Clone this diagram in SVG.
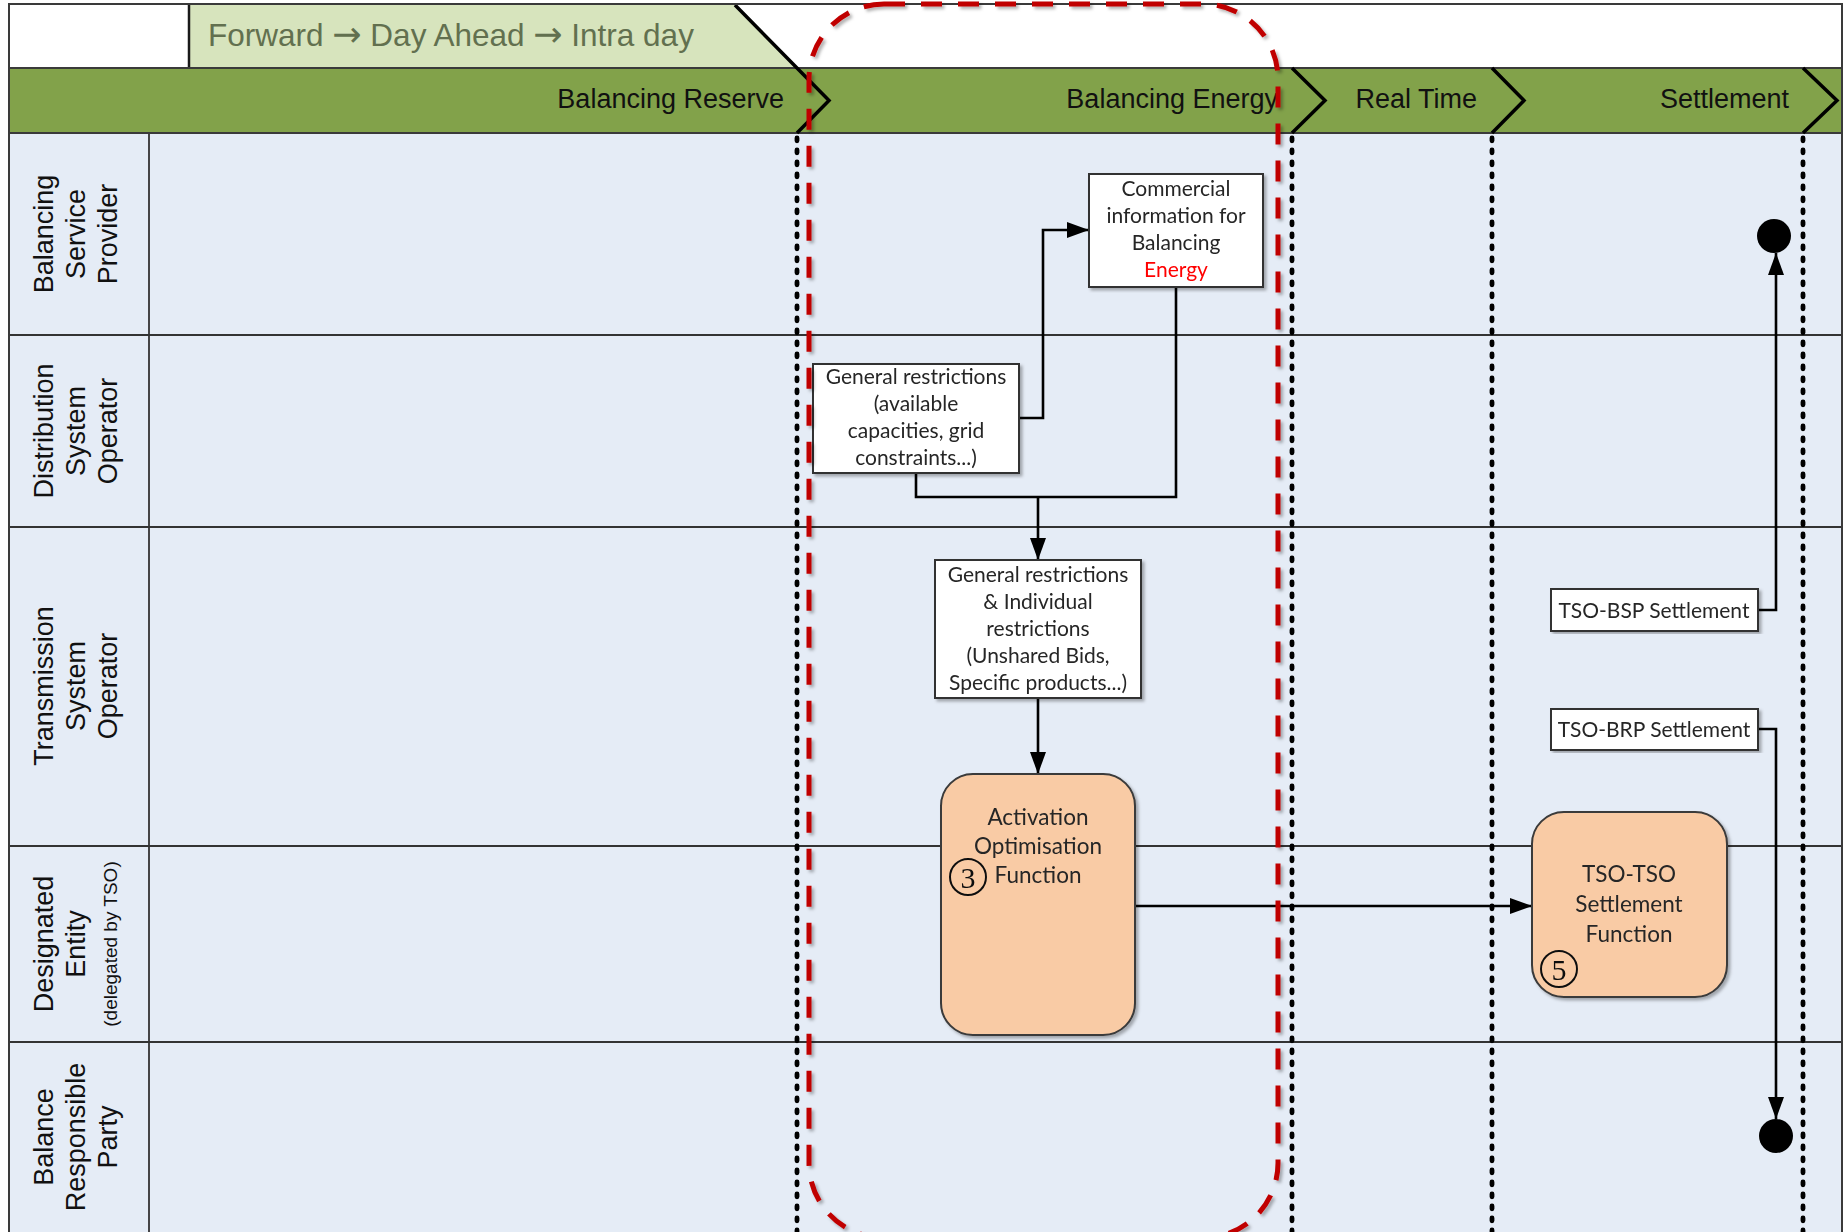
<svg xmlns="http://www.w3.org/2000/svg" width="1843" height="1232" viewBox="0 0 1843 1232">
  <defs>
    <style>
      .lane { fill: #E5ECF6; }
      .grid { stroke: #333333; stroke-width: 1.8; fill: none; }
      .edge { stroke: #3a3a3a; stroke-width: 2; fill: none; }
      .chev { stroke: #000000; stroke-width: 3.5; fill: none; stroke-linejoin: miter; }
      .dots { stroke: #000000; stroke-width: 4.8; stroke-dasharray: 2.8 9.2; stroke-linecap: round; fill: none; }
      .phase { font-family: "Liberation Sans", Arial, sans-serif; font-size: 27px; fill: #111111; }
      .role { font-family: "Liberation Sans", Arial, sans-serif; font-size: 27px; fill: #111111; text-anchor: middle; }
      .role-small { font-family: "Liberation Sans", Arial, sans-serif; font-size: 19px; fill: #111111; text-anchor: middle; }
      .box { fill: #FFFFFF; stroke: #333333; stroke-width: 2; }
      .func { fill: #F9CBA5; stroke: #3a3a3a; stroke-width: 2; }
      .label { font-family: Lato, "Open Sans", sans-serif; font-size: 21px; fill: #262626; text-anchor: middle; }
      .flabel { font-family: Lato, "Open Sans", sans-serif; font-size: 22.5px; fill: #262626; text-anchor: middle; }
      .num { font-family: "Liberation Serif", "Times New Roman", serif; font-size: 30px; fill: #111111; text-anchor: middle; }
      .ring { fill: none; stroke: #111111; stroke-width: 2; }
      .flow { stroke: #000000; stroke-width: 2.6; fill: none; }
      .scope { fill: none; stroke: #C00000; stroke-width: 5; stroke-dasharray: 21 16; }
      .arr { font-family: "DejaVu Sans", sans-serif; font-size: 35px; }
    </style>
    <marker id="arrow" viewBox="0 0 22 16" refX="22" refY="8" markerWidth="22" markerHeight="16" markerUnits="userSpaceOnUse" orient="auto">
      <path d="M0,0 L22,8 L0,16 z" fill="#000000"/>
    </marker>
    <filter id="shade" x="-5%" y="-5%" width="110%" height="110%">
      <feDropShadow dx="2.5" dy="2.5" stdDeviation="1.5" flood-color="#000000" flood-opacity="0.3"/>
    </filter>
  </defs>

  <!-- page background -->
  <rect x="0" y="0" width="1843" height="1232" fill="#FFFFFF"/>

  <!-- swimlane body -->
  <rect class="lane" x="9" y="133" width="1833" height="1100"/>

  <!-- lane separators and header column -->
  <g id="lane-grid">
    <line class="grid" x1="9" y1="335" x2="1842" y2="335"/>
    <line class="grid" x1="9" y1="527" x2="1842" y2="527"/>
    <line class="grid" x1="9" y1="846" x2="1842" y2="846"/>
    <line class="grid" x1="9" y1="1042" x2="1842" y2="1042"/>
    <line class="grid" x1="149" y1="133" x2="149" y2="1232"/>
  </g>

  <!-- market timeframe banner -->
  <g id="timeframe">
    <polygon points="189,5 735,5 797,68 189,68" fill="#D7E4BD"/>
    <line x1="189" y1="5" x2="189" y2="68" stroke="#1a1a1a" stroke-width="2.5"/>
    <text x="208" y="46" font-family="'Liberation Sans', Arial, sans-serif" font-size="31.5" fill="#62704F">Forward <tspan class="arr">→</tspan> Day Ahead <tspan class="arr">→</tspan> Intra day</text>
  </g>

  <!-- phase band -->
  <g id="phase-band">
    <rect x="9" y="68" width="1833" height="65" fill="#82A24A"/>
    <line class="edge" x1="9" y1="68" x2="1842" y2="68"/>
    <line class="edge" x1="9" y1="133" x2="1842" y2="133"/>
    <text class="phase" x="784" y="108" text-anchor="end">Balancing Reserve</text>
    <text class="phase" x="1278" y="108" text-anchor="end">Balancing Energy</text>
    <text class="phase" x="1477" y="108" text-anchor="end">Real Time</text>
    <text class="phase" x="1789" y="108" text-anchor="end">Settlement</text>
  </g>

  <!-- phase boundaries -->
  <g id="phase-boundaries">
    <path class="chev" d="M735,5 L829,100.5 L797,133"/>
    <path class="chev" d="M1292,68 L1325,100.5 L1292,133"/>
    <path class="chev" d="M1492,68 L1524,100.5 L1492,133"/>
    <path class="chev" d="M1803,68 L1837,100.5 L1803,133"/>
    <line class="dots" x1="797" y1="138" x2="797" y2="1232"/>
    <line class="dots" x1="1292" y1="138" x2="1292" y2="1232"/>
    <line class="dots" x1="1492" y1="138" x2="1492" y2="1232"/>
    <line class="dots" x1="1803" y1="138" x2="1803" y2="1232"/>
  </g>

  <!-- outer frame -->
  <path class="edge" d="M9,1232 L9,4 L1842,4 L1842,1232"/>

  <!-- role names -->
  <g id="role-bsp">
    <text class="role" transform="translate(53,234) rotate(-90)">Balancing</text>
    <text class="role" transform="translate(85,234) rotate(-90)">Service</text>
    <text class="role" transform="translate(117,234) rotate(-90)">Provider</text>
  </g>
  <g id="role-dso">
    <text class="role" transform="translate(53,431) rotate(-90)">Distribution</text>
    <text class="role" transform="translate(85,431) rotate(-90)">System</text>
    <text class="role" transform="translate(117,431) rotate(-90)">Operator</text>
  </g>
  <g id="role-tso">
    <text class="role" transform="translate(53,686) rotate(-90)">Transmission</text>
    <text class="role" transform="translate(85,686) rotate(-90)">System</text>
    <text class="role" transform="translate(117,686) rotate(-90)">Operator</text>
  </g>
  <g id="role-de">
    <text class="role" transform="translate(53,944) rotate(-90)">Designated</text>
    <text class="role" transform="translate(85,944) rotate(-90)">Entity</text>
    <text class="role-small" transform="translate(117,944) rotate(-90)">(delegated by TSO)</text>
  </g>
  <g id="role-brp">
    <text class="role" transform="translate(53,1137) rotate(-90)">Balance</text>
    <text class="role" transform="translate(85,1137) rotate(-90)">Responsible</text>
    <text class="role" transform="translate(117,1137) rotate(-90)">Party</text>
  </g>

  <!-- connectors -->
  <g id="connectors">
    <polyline class="flow" points="1019,418 1043,418 1043,230 1089,230" marker-end="url(#arrow)"/>
    <polyline class="flow" points="1176,287 1176,497 916,497 916,473"/>
    <line class="flow" x1="1038" y1="497" x2="1038" y2="560" marker-end="url(#arrow)"/>
    <line class="flow" x1="1038" y1="698" x2="1038" y2="774" marker-end="url(#arrow)"/>
    <line class="flow" x1="1135" y1="906" x2="1532" y2="906" marker-end="url(#arrow)"/>
    <polyline class="flow" points="1758,610 1776,610 1776,253" marker-end="url(#arrow)"/>
    <polyline class="flow" points="1758,729 1776,729 1776,1119" marker-end="url(#arrow)"/>
  </g>

  <!-- end points -->
  <g id="end-bsp">
    <circle cx="1774" cy="236" r="17" fill="#000000"/>
  </g>
  <g id="end-brp">
    <circle cx="1776" cy="1136" r="17" fill="#000000"/>
  </g>

  <!-- information objects -->
  <g id="commercial-info" filter="url(#shade)">
    <rect class="box" x="1089" y="174" width="174" height="113"/>
    <text class="label" x="1176" y="196">Commercial</text>
    <text class="label" x="1176" y="223">information for</text>
    <text class="label" x="1176" y="250">Balancing</text>
    <text class="label" x="1176" y="277" style="fill:#FF0000">Energy</text>
  </g>

  <g id="dso-restrictions" filter="url(#shade)">
    <rect class="box" x="813" y="364" width="206" height="109"/>
    <text class="label" x="916" y="384">General restrictions</text>
    <text class="label" x="916" y="411">(available</text>
    <text class="label" x="916" y="438">capacities, grid</text>
    <text class="label" x="916" y="465">constraints...)</text>
  </g>

  <g id="tso-restrictions" filter="url(#shade)">
    <rect class="box" x="935" y="560" width="206" height="138"/>
    <text class="label" x="1038" y="582">General restrictions</text>
    <text class="label" x="1038" y="609">&amp; Individual</text>
    <text class="label" x="1038" y="636">restrictions</text>
    <text class="label" x="1038" y="663">(Unshared Bids,</text>
    <text class="label" x="1038" y="690">Specific products...)</text>
  </g>

  <g id="tso-bsp-settlement" filter="url(#shade)">
    <rect class="box" x="1551" y="589" width="207" height="42"/>
    <text class="label" x="1654" y="618">TSO-BSP Settlement</text>
  </g>

  <g id="tso-brp-settlement" filter="url(#shade)">
    <rect class="box" x="1551" y="709" width="207" height="41"/>
    <text class="label" x="1654" y="737">TSO-BRP Settlement</text>
  </g>

  <!-- functions -->
  <g id="activation-optimisation" filter="url(#shade)">
    <rect class="func" x="941" y="774" width="194" height="261" rx="32" ry="32"/>
    <text class="flabel" x="1038" y="825">Activation</text>
    <text class="flabel" x="1038" y="854">Optimisation</text>
    <text class="flabel" x="1038" y="883">Function</text>
    <circle class="ring" cx="968" cy="877" r="18"/>
    <text class="num" x="968" y="888">3</text>
  </g>

  <g id="tso-tso-settlement" filter="url(#shade)">
    <rect class="func" x="1532" y="812" width="195" height="185" rx="32" ry="32"/>
    <text class="flabel" x="1629" y="882">TSO-TSO</text>
    <text class="flabel" x="1629" y="912">Settlement</text>
    <text class="flabel" x="1629" y="942">Function</text>
    <circle class="ring" cx="1559" cy="969" r="18"/>
    <text class="num" x="1559" y="980">5</text>
  </g>

  <!-- balancing energy scope -->
  <g id="scope" filter="url(#shade)">
    <rect class="scope" x="809" y="4" width="469" height="1234" rx="75" ry="75"/>
  </g>
</svg>
